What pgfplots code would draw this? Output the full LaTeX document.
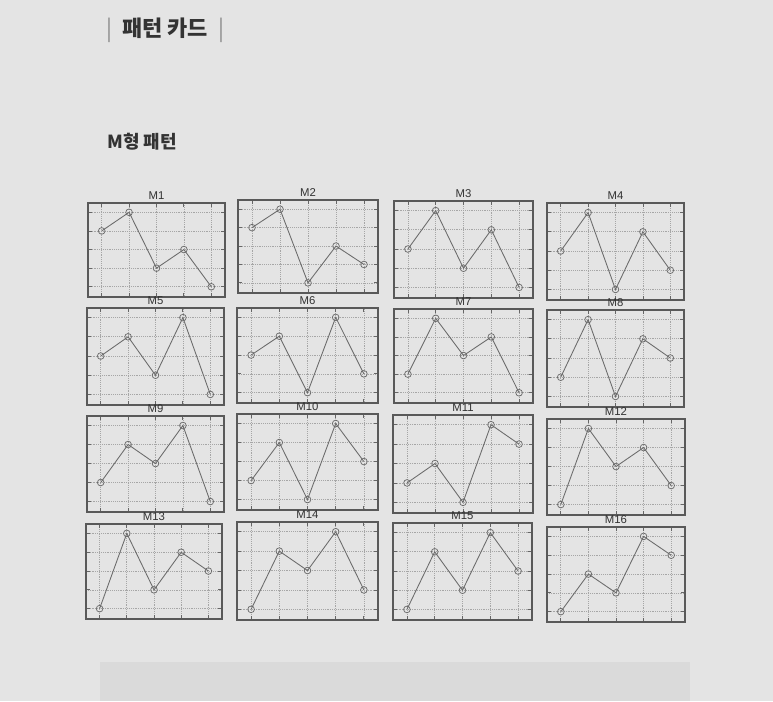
\documentclass[border=0pt]{standalone}
\usepackage{pgfplots}
\pgfplotsset{compat=1.18}
\usepackage{fontspec}
\setmainfont{Liberation Sans}
\newfontfamily\kr{Noto Sans CJK KR}
\definecolor{pagebg}{HTML}{E4E4E4}
\definecolor{bandbg}{HTML}{DADADA}
\definecolor{txt}{HTML}{333333}
\pgfplotsset{
  every axis title/.style={at={(0.5,1)}, anchor=south, inner sep=0pt, yshift=2.5pt,
      font=\fontsize{8.5}{9}\selectfont, text=black!80},
  panel/.style={
    scale only axis,
    anchor=north west,
    xmin=0.5, xmax=5.5, ymin=0.45, ymax=5.5,
    xtick={1,2,3,4,5}, ytick={1,2,3,4,5},
    xticklabels={}, yticklabels={},
    tick pos=both, tick align=inside,
    major tick length=3pt,
    tick style={draw=black!60, line width=0.6pt},
    grid=major,
    grid style={densely dotted, draw=black!35, line width=0.5pt},
    axis line style={draw=black!65, line width=0.85pt},
  },
  mline/.style={draw=black!58, line width=0.65pt, mark=o, mark size=2.5pt,
    mark options={draw=black!58, line width=0.55pt}},
}
\newcommand{\panel}[6]{%
  \begin{axis}[panel, at={(#1*0.75pt,-#2*0.75pt)},
    width=#3*0.75pt, height=#4*0.75pt, title={#5}]
    \addplot[mline] coordinates {#6};
  \end{axis}}
\begin{document}
\begin{tikzpicture}
\fill[pagebg] (0,0) rectangle (773*0.75pt,-701*0.75pt);
\fill[bandbg] (100*0.75pt,-662*0.75pt) rectangle (690*0.75pt,-701*0.75pt);
\node[anchor=west, inner sep=0pt, text=txt] at (106*0.75pt,-30*0.75pt)
  {\kr\fontsize{16.5}{18}\selectfont {\color{black!45}|}\hspace{0.45em}\bfseries 패턴 카드\hspace{0.45em}{\mdseries\color{black!45}|}};
\node[anchor=west, inner sep=0pt, text=txt] at (107*0.75pt,-142*0.75pt)
  {\kr\bfseries\fontsize{13.5}{15}\selectfont M형 패턴};
% row 1
\panel{88}{203}{137}{94}{M1}{(1,4) (2,5) (3,2) (4,3) (5,1)}
\panel{238}{200}{140}{93}{M2}{(1,4) (2,5) (3,1) (4,3) (5,2)}
\panel{394}{201}{139}{97}{M3}{(1,3) (2,5) (3,2) (4,4) (5,1)}
\panel{547}{203}{137}{97}{M4}{(1,3) (2,5) (3,1) (4,4) (5,2)}
% row 2
\panel{87}{308}{137}{97}{M5}{(1,3) (2,4) (3,2) (4,5) (5,1)}
\panel{237}{308}{141}{95}{M6}{(1,3) (2,4) (3,1) (4,5) (5,2)}
\panel{394}{309}{139}{94}{M7}{(1,2) (2,5) (3,3) (4,4) (5,1)}
\panel{547}{310}{137}{97}{M8}{(1,2) (2,5) (3,1) (4,4) (5,3)}
% row 3
\panel{87}{416}{137}{96}{M9}{(1,2) (2,4) (3,3) (4,5) (5,1)}
\panel{237}{414}{141}{96}{M10}{(1,2) (2,4) (3,1) (4,5) (5,3)}
\panel{393}{415}{140}{98}{M11}{(1,2) (2,3) (3,1) (4,5) (5,4)}
\panel{547}{419}{138}{96}{M12}{(1,1) (2,5) (3,3) (4,4) (5,2)}
% row 4
\panel{86}{524}{136}{95}{M13}{(1,1) (2,5) (3,2) (4,4) (5,3)}
\panel{237}{522}{141}{98}{M14}{(1,1) (2,4) (3,3) (4,5) (5,2)}
\panel{393}{523}{139}{97}{M15}{(1,1) (2,4) (3,2) (4,5) (5,3)}
\panel{547}{527}{138}{95}{M16}{(1,1) (2,3) (3,2) (4,5) (5,4)}
\end{tikzpicture}
\end{document}
